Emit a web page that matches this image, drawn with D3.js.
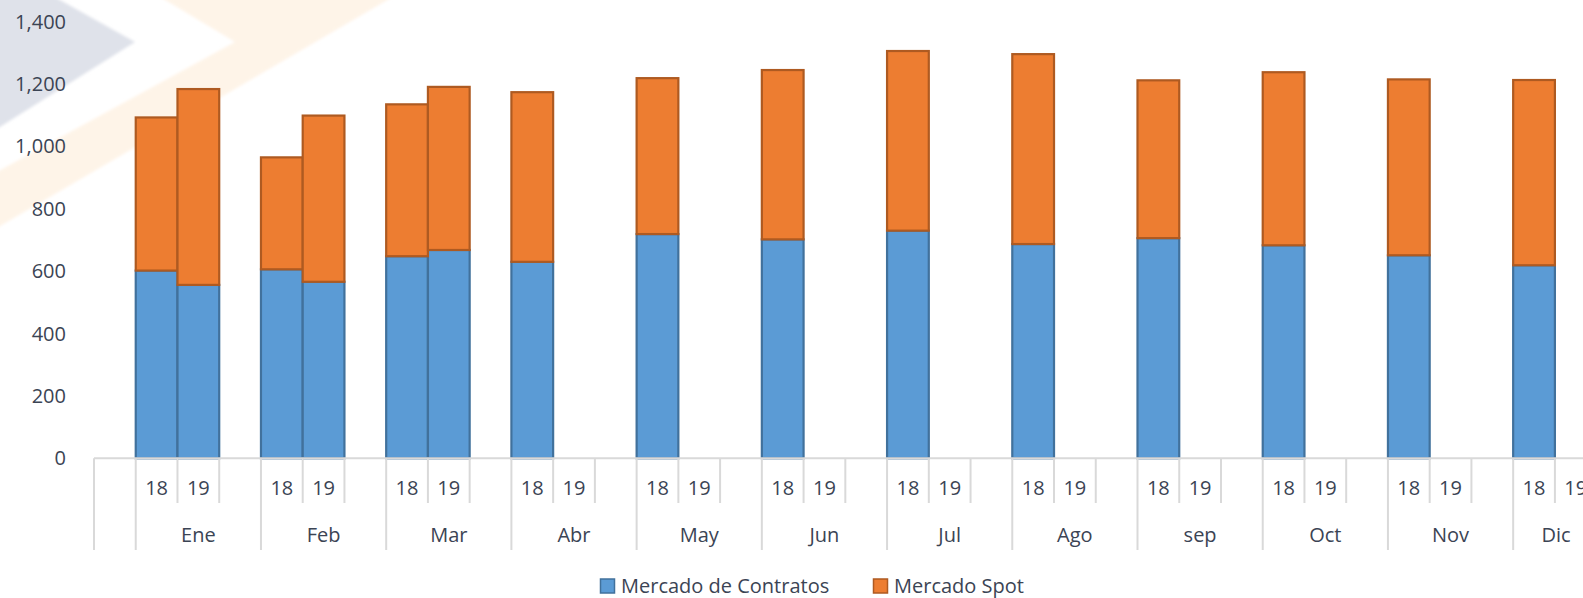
<!DOCTYPE html>
<html>
<head>
<meta charset="utf-8">
<script src="https://cdn.jsdelivr.net/npm/d3@7"></script>
<style>
  body { margin: 0; background: #fff; }
  svg text { font-family: "Open Sans", "Noto Sans", sans-serif; fill: #3b4454; }
</style>
</head>
<body>
<script>
// data
var months = ["Ene", "Feb", "Mar", "Abr", "May", "Jun", "Jul", "Ago", "sep", "Oct", "Nov", "Dic"];
var years = ["18", "19"];
var contratos18 = [602, 606, 648, 630, 719, 702, 730, 687, 706, 683, 651, 619];
var contratos19 = [556, 566, 668, null, null, null, null, null, null, null, null, null];
var spot18 = [491, 359, 487, 544, 500, 543, 576, 609, 506, 555, 564, 594];
var spot19 = [628, 533, 523, null, null, null, null, null, null, null, null, null];
var yTicks = [0, 200, 400, 600, 800, 1000, 1200, 1400];
var seriesNames = ["Mercado de Contratos", "Mercado Spot"];

function init() {
    var w = 1583, h = 598;
    var x0 = 94, slotW = 41.74;

    var svg = d3.select("body").append("svg")
        .attr("width", w)
        .attr("height", h);

    var defs = svg.append("defs");
    defs.append("filter").attr("id", "soft")
        .append("feGaussianBlur").attr("stdDeviation", 1.5);

    // faint watermark in the background
    var wm = svg.append("g").attr("filter", "url(#soft)");
    wm.append("polygon")
        .attr("points", "-5,-5 51,-5 135,42 -5,130")
        .attr("fill", "#dfe2ea");
    wm.append("polygon")
        .attr("points", "157,-5 396,-5 -5,229 -5,173 235,42")
        .attr("fill", "#fef4e8");

    // one blank slot, then 18 / 19 / blank for every month
    var slots = [{ key: "start", month: null, year: "" }];
    months.forEach(function(m, i) {
        years.forEach(function(yr) {
            slots.push({ key: m + "|" + yr, month: m, year: yr, idx: i });
        });
        slots.push({ key: m + "|", month: m, year: "", idx: i });
    });

    var x = d3.scaleBand()
        .domain(slots.map(function(d) { return d.key; }))
        .range([x0, x0 + slots.length * slotW])
        .padding(0);

    var y = d3.scaleLinear()
        .domain([0, 1400])
        .range([458.3, 21.7]);

    // y labels
    svg.append("g").selectAll("text")
        .data(yTicks)
        .enter()
        .append("text")
        .attr("x", 66)
        .attr("y", function(d) { return y(d); })
        .attr("dy", "0.35em")
        .attr("text-anchor", "end")
        .style("font-size", "20px")
        .text(function(d) { return d3.format(",")(d); });

    // stacked bars
    var rows = [];
    months.forEach(function(m, i) {
        rows.push({ key: m + "|18", c: contratos18[i], s: spot18[i] });
        if (contratos19[i] != null) {
            rows.push({ key: m + "|19", c: contratos19[i], s: spot19[i] });
        }
    });

    var bars = svg.append("g");
    bars.selectAll("rect.c")
        .data(rows)
        .enter()
        .append("rect")
        .attr("class", "c")
        .attr("x", function(d) { return x(d.key); })
        .attr("width", x.bandwidth())
        .attr("y", function(d) { return y(d.c); })
        .attr("height", function(d) { return y(0) - y(d.c); })
        .attr("fill", "#5b9bd5")
        .attr("stroke", "#41719c")
        .attr("stroke-width", 2.2);
    bars.selectAll("rect.s")
        .data(rows)
        .enter()
        .append("rect")
        .attr("class", "s")
        .attr("x", function(d) { return x(d.key); })
        .attr("width", x.bandwidth())
        .attr("y", function(d) { return y(d.c + d.s); })
        .attr("height", function(d) { return y(d.c) - y(d.c + d.s); })
        .attr("fill", "#ed7d31")
        .attr("stroke", "#ae5a21")
        .attr("stroke-width", 2.2);

    // category axis
    var ax = svg.append("g");
    ax.append("line")
        .attr("x1", x0).attr("x2", w)
        .attr("y1", y(0)).attr("y2", y(0))
        .attr("stroke", "#d9d9d9").attr("stroke-width", 2);

    ax.selectAll("line.tick")
        .data(slots)
        .enter()
        .append("line")
        .attr("x1", function(d) { return x(d.key); })
        .attr("x2", function(d) { return x(d.key); })
        .attr("y1", y(0))
        .attr("y2", function(d) { return (d.month == null || d.year == "18") ? 550 : 503; })
        .attr("stroke", "#d9d9d9")
        .attr("stroke-width", 2);

    ax.selectAll("text.yr")
        .data(slots.filter(function(d) { return d.year != ""; }))
        .enter()
        .append("text")
        .attr("x", function(d) { return x(d.key) + x.bandwidth() / 2; })
        .attr("y", 488)
        .attr("dy", "0.35em")
        .attr("text-anchor", "middle")
        .style("font-size", "20px")
        .text(function(d) { return d.year; });

    // month labels, the last one is kept inside the visible area
    ax.selectAll("text.mo")
        .data(months)
        .enter()
        .append("text")
        .attr("x", function(d) { return Math.min(x(d + "|19") + x.bandwidth() / 2, 1556); })
        .attr("y", 535)
        .attr("dy", "0.35em")
        .attr("text-anchor", "middle")
        .style("font-size", "20px")
        .text(function(d) { return d; });

    // legend
    var legendX = [600, 873];
    var fills = ["#5b9bd5", "#ed7d31"];
    var strokes = ["#41719c", "#ae5a21"];
    var lg = svg.append("g").selectAll("g")
        .data(seriesNames)
        .enter()
        .append("g")
        .attr("transform", function(d, i) { return "translate(" + legendX[i] + ",586)"; });
    lg.append("rect")
        .attr("x", 0.5).attr("y", -7)
        .attr("width", 14).attr("height", 14)
        .attr("fill", function(d, i) { return fills[i]; })
        .attr("stroke", function(d, i) { return strokes[i]; })
        .attr("stroke-width", 1.5);
    lg.append("text")
        .attr("x", 21)
        .attr("dy", "0.35em")
        .style("font-size", "20px")
        .text(function(d) { return d; });
}

window.onload = init;
</script>
</body>
</html>
